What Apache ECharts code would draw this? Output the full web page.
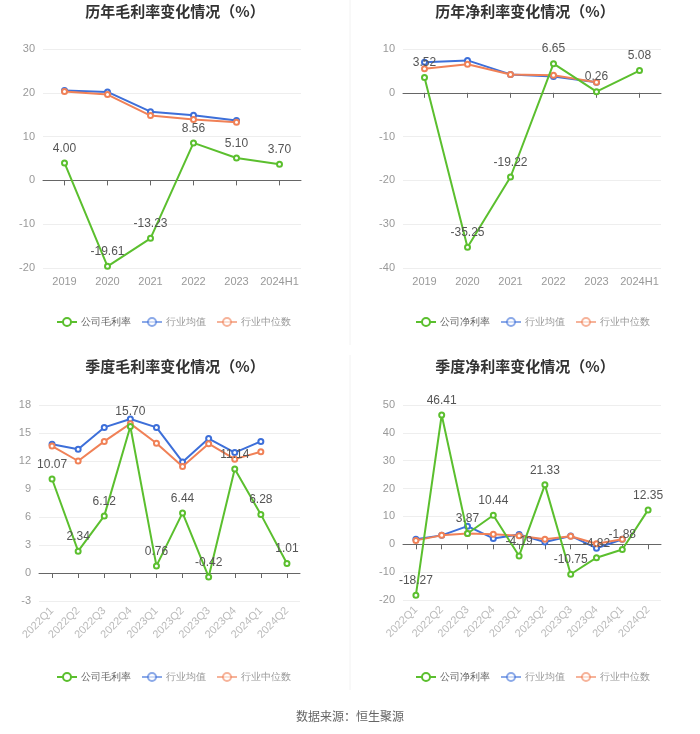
<!DOCTYPE html>
<html><head><meta charset="utf-8">
<script src="https://cdn.jsdelivr.net/npm/echarts@6/dist/echarts.min.js"></script>
<style>html,body{margin:0;padding:0;background:#fff}#c{width:700px;height:734px}</style>
</head><body><div id="c"></div>
<script>
const yearCats = ['2019','2020','2021','2022','2023','2024H1'];
const quarterCats = ['2022Q1','2022Q2','2022Q3','2022Q4','2023Q1','2023Q2','2023Q3','2023Q4','2024Q1','2024Q2'];

const annGross = [4.00, -19.61, -13.23, 8.56, 5.10, 3.70];
const annGrossAvg = [20.5, 20.2, 15.7, 14.9, 13.7, null];
const annGrossMed = [20.3, 19.6, 14.8, 13.9, 13.3, null];

const annNet = [3.52, -35.25, -19.22, 6.65, 0.26, 5.08];
const annNetAvg = [7.0, 7.4, 4.2, 3.7, 2.4, null];
const annNetMed = [5.5, 6.5, 4.2, 4.0, 2.4, null];

const qGross = [10.07, 2.34, 6.12, 15.70, 0.76, 6.44, -0.42, 11.14, 6.28, 1.01];
const qGrossAvg = [13.8, 13.25, 15.6, 16.5, 15.6, 11.9, 14.4, 12.9, 14.1, null];
const qGrossMed = [13.6, 12.0, 14.1, 16.0, 13.9, 11.4, 13.85, 12.2, 13.0, null];

const qNet = [-18.27, 46.41, 3.87, 10.44, -4.19, 21.33, -10.75, -4.82, -1.88, 12.35];
const qNetAvg = [1.8, 3.2, 6.5, 2.1, 3.5, 0.8, 3.0, -1.4, 1.8, null];
const qNetMed = [1.4, 3.2, 3.9, 3.6, 3.1, 1.8, 2.9, 0.2, 1.8, null];

const GREEN = '#5bbf2e', BLUE = '#3d6fd9', ORANGE = '#f08157';

const panels = [
  {title:'历年毛利率变化情况（%）', cats:yearCats, name:'公司毛利率', main:annGross, avg:annGrossAvg, med:annGrossMed,
   min:-20, max:30, interval:10, grid:{left:43, top:49, width:258, height:219}, tx:175, ty:4, lx:56, ly:317, rotate:0},
  {title:'历年净利率变化情况（%）', cats:yearCats, name:'公司净利率', main:annNet, avg:annNetAvg, med:annNetMed,
   min:-40, max:10, interval:10, grid:{left:403, top:49, width:258, height:219}, tx:525, ty:4, lx:415, ly:317, rotate:0},
  {title:'季度毛利率变化情况（%）', cats:quarterCats, name:'公司毛利率', main:qGross, avg:qGrossAvg, med:qGrossMed,
   min:-3, max:18, interval:3, grid:{left:39, top:405, width:261, height:196}, tx:175, ty:359, lx:56, ly:672, rotate:45},
  {title:'季度净利率变化情况（%）', cats:quarterCats, name:'公司净利率', main:qNet, avg:qNetAvg, med:qNetMed,
   min:-20, max:50, interval:10, grid:{left:403, top:405, width:258, height:195}, tx:525, ty:359, lx:415, ly:672, rotate:45}
];

const option = {
  animation:false,
  backgroundColor:'#fff',
  title:[], legend:[], grid:[], xAxis:[], yAxis:[], series:[],
  graphic:[
    {type:'line', shape:{x1:350, y1:0, x2:350, y2:345}, style:{stroke:'#f2f2f2', lineWidth:1}},
    {type:'line', shape:{x1:350, y1:355, x2:350, y2:690}, style:{stroke:'#f2f2f2', lineWidth:1}},
    {type:'text', left:'center', top:710, style:{text:'数据来源：恒生聚源', fill:'#666', font:'12px "Noto Sans CJK SC", sans-serif'}}
  ]
};

panels.forEach((p, i) => {
  option.title.push({text:p.title, left:p.tx, top:p.ty, textAlign:'center', padding:0,
    textStyle:{fontSize:15, fontWeight:'bold', color:'#333', fontFamily:'"Noto Sans CJK SC", sans-serif'}});
  option.grid.push(Object.assign({containLabel:false}, p.grid));
  option.xAxis.push({type:'category', gridIndex:i, data:p.cats, boundaryGap:true,
    axisLine:{onZero:true, lineStyle:{color:'#666'}},
    axisTick:{show:true, alignWithLabel:true, lineStyle:{color:'#666'}},
    axisLabel:{color:p.rotate ? '#bbb' : '#999', fontSize:11, rotate:p.rotate, interval:0, margin:8}});
  option.yAxis.push({type:'value', gridIndex:i, min:p.min, max:p.max, interval:p.interval,
    axisLine:{show:false}, axisTick:{show:false},
    axisLabel:{color:'#999', fontSize:11},
    splitLine:{lineStyle:{color:'#eee'}}});
  option.legend.push({top:p.ly, left:p.lx, width:320, padding:0, itemWidth:20, itemHeight:10, itemGap:10,
    textStyle:{fontSize:10, color:'#999', padding:[0,0,0,-1]},
    data:[
      {name:p.name+'#'+i, textStyle:{color:'#666'}},
      {name:'行业均值#'+i, itemStyle:{opacity:0.6}, lineStyle:{opacity:0.6}},
      {name:'行业中位数#'+i, itemStyle:{opacity:0.6}, lineStyle:{opacity:0.6}}
    ],
    formatter:(n)=>n.split('#')[0]
  });
  const base = {type:'line', xAxisIndex:i, yAxisIndex:i, symbol:'emptyCircle', symbolSize:5, lineStyle:{width:2}};
  option.series.push(Object.assign({}, base, {name:'行业均值#'+i, data:p.avg, color:BLUE, z:2}));
  option.series.push(Object.assign({}, base, {name:'行业中位数#'+i, data:p.med, color:ORANGE, z:3}));
  option.series.push(Object.assign({}, base, {name:p.name+'#'+i, data:p.main, color:GREEN, z:4,
    label:{show:true, position:'top', color:'#555', fontSize:12, formatter:(d)=>d.value.toFixed(2)}}));
});

const chart = echarts.init(document.getElementById('c'));
chart.setOption(option);
</script></body></html>
